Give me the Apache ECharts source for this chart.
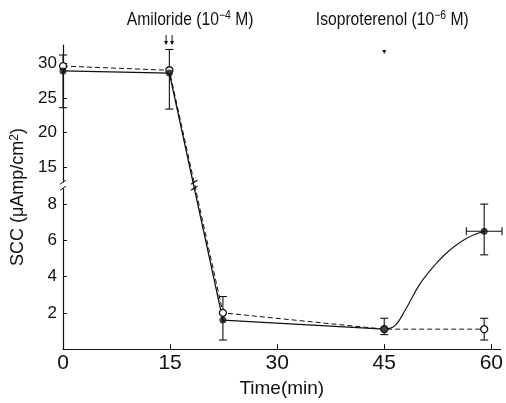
<!DOCTYPE html>
<html>
<head>
<meta charset="utf-8">
<script src="https://cdn.jsdelivr.net/npm/echarts@6/dist/echarts.min.js"></script>
<style>html,body{margin:0;padding:0;background:#fff}#c{width:506px;height:403px}</style>
</head>
<body>
<div id="c"></div>
<script>
// ---- data ----
const timeMin = [0, 14.9, 22.4, 45, 59];
const solidSCC = [28.9, 28.6, 1.6, 1.1, 6.5];      // filled circles
const openSCC = [29.6, 29.0, 2.0, 1.1, 1.1];       // open circles (dashed)
const curveTime = [45, 46.5, 48, 50, 52, 54, 56.5, 59]; // hand-drawn recovery curve (solid)
const curveSCC = [1.1, 1.3, 2.2, 3.6, 4.6, 5.4, 6.1, 6.5];
// vertical error bars
const errTime = [0, 14.9, 22.4, 45, 59, 59];
const errLow = [23.6, 23.4, 0.5, 0.8, 5.2, 0.5];
const errHigh = [31.2, 32.0, 2.9, 1.7, 8.0, 1.7];
// horizontal error bar
const hErrValue = [6.5];
const hErrLow = [56.5];
const hErrHigh = [61.5];
const xTicks = [0, 15, 30, 45, 60];
const yTicksLower = [2, 4, 6, 8];
const yTicksUpper = [15, 20, 25, 30];
const eventTimes = [15, 45];

// ---- broken y scale ----
const LOWER_MAX = 9.0;
const UPPER_ANCHOR = 30, UPPER_ANCHOR_U = 15.765, UPPER_RATIO = 7 / 18.3;
function yMap(v) { return v <= LOWER_MAX ? v : UPPER_ANCHOR_U + (v - UPPER_ANCHOR) * UPPER_RATIO; }
function yInv(u) { return u <= LOWER_MAX + 0.05 ? u : UPPER_ANCHOR + (u - UPPER_ANCHOR_U) / UPPER_RATIO; }
const BREAK_U = 9.04;

const FONT = "'Liberation Sans Narrow','Liberation Sans',sans-serif";
const INK = '#111';

const chart = echarts.init(document.getElementById('c'), null, {renderer: 'canvas'});

const solidMain = timeMin.slice(0, 4).map((t, i) => [t, yMap(solidSCC[i])]);
const openMain = timeMin.map((t, i) => [t, yMap(openSCC[i])]);
const curve = curveTime.map((t, i) => [t, yMap(curveSCC[i])]);
const solidPts = timeMin.map((t, i) => [t, yMap(solidSCC[i])]);
const vErr = errTime.map((t, i) => [t, yMap(errLow[i]), yMap(errHigh[i])]);
const hErr = hErrValue.map((v, i) => [hErrLow[i], hErrHigh[i], yMap(v)]);

const allYTicks = yTicksLower.concat(yTicksUpper).map(yMap);

chart.setOption({
  animation: false,
  backgroundColor: '#fff',
  grid: {left: 63, right: 3.5, top: 45, bottom: 51},
  xAxis: {
    type: 'value', min: 0, max: 61.3,
    name: 'Time(min)', nameLocation: 'middle', nameGap: 21,
    nameTextStyle: {fontFamily: FONT, fontSize: 19, color: INK},
    axisLine: {lineStyle: {color: INK, width: 1.2}},
    axisTick: {inside: true, length: 5, customValues: xTicks, lineStyle: {color: INK}},
    axisLabel: {customValues: xTicks, fontFamily: FONT, fontSize: 21, color: INK, margin: 4},
    splitLine: {show: false}
  },
  yAxis: {
    type: 'value', min: 0, max: 16.776,
    name: 'SCC (μAmp/cm{sup|2})', nameLocation: 'middle', nameRotate: 90, nameGap: 24,
    nameTextStyle: {fontFamily: FONT, fontSize: 18, color: INK,
      rich: {sup: {fontFamily: FONT, fontSize: 12, verticalAlign: 'top', padding: [0, 0, 8, 0], color: INK}}},
    axisLine: {lineStyle: {color: INK, width: 1.2}},
    axisTick: {inside: true, length: 4, customValues: allYTicks, lineStyle: {color: INK}},
    axisLabel: {customValues: allYTicks, fontFamily: FONT, fontSize: 17, color: INK, margin: 6,
      formatter: v => String(Math.round(yInv(v)))},
    splitLine: {show: false}
  },
  series: [
    {type: 'line', name: 'open', data: openMain, symbol: 'circle', symbolSize: 7,
      lineStyle: {color: INK, width: 1, type: [5, 3]},
      itemStyle: {color: '#fff', borderColor: INK, borderWidth: 1.3}, z: 3},
    {type: 'line', name: 'solid', data: solidMain, symbol: 'none',
      lineStyle: {color: INK, width: 1.3}, z: 2},
    {type: 'line', name: 'curve', data: curve, symbol: 'none', smooth: 0.4,
      lineStyle: {color: INK, width: 1.1}, z: 2},
    {type: 'scatter', name: 'solidPts', data: solidPts, symbol: 'circle', symbolSize: 7,
      itemStyle: {color: INK}, z: 4},
    {type: 'custom', name: 'vErr', data: vErr, z: 1,
      renderItem: function (params, api) {
        const x = api.value(0);
        const lo = api.coord([x, api.value(1)]);
        const hi = api.coord([x, api.value(2)]);
        const w = 4;
        const st = {stroke: INK, lineWidth: 1.1};
        return {type: 'group', children: [
          {type: 'line', shape: {x1: lo[0], y1: lo[1], x2: hi[0], y2: hi[1]}, style: st},
          {type: 'line', shape: {x1: lo[0] - w, y1: lo[1], x2: lo[0] + w, y2: lo[1]}, style: st},
          {type: 'line', shape: {x1: hi[0] - w, y1: hi[1], x2: hi[0] + w, y2: hi[1]}, style: st}
        ]};
      }},
    {type: 'custom', name: 'hErr', data: hErr, z: 1,
      renderItem: function (params, api) {
        const y = api.value(2);
        const a = api.coord([api.value(0), y]);
        const b = api.coord([api.value(1), y]);
        const h = 4;
        const st = {stroke: INK, lineWidth: 1.1};
        return {type: 'group', children: [
          {type: 'line', shape: {x1: a[0], y1: a[1], x2: b[0], y2: b[1]}, style: st},
          {type: 'line', shape: {x1: a[0], y1: a[1] - h, x2: a[0], y2: a[1] + h}, style: st},
          {type: 'line', shape: {x1: b[0], y1: b[1] - h, x2: b[0], y2: b[1] + h}, style: st}
        ]};
      }}
  ]
});

// ---- annotations placed through the chart's scales ----
const g = [];
const brkY = chart.convertToPixel({gridIndex: 0}, [0, BREAK_U]);
g.push({type: 'rect', shape: {x: brkY[0] - 2, y: brkY[1] - 3, width: 4, height: 6}, style: {fill: '#fff'}, z: 50});
[-3, 3].forEach(d => g.push({type: 'line', shape: {x1: brkY[0] - 3, y1: brkY[1] + d + 2, x2: brkY[0] + 3, y2: brkY[1] + d - 2}, style: {stroke: INK, lineWidth: 1}, z: 51}));
[solidSCC, openSCC].forEach(arr => {
  const p1 = chart.convertToPixel({gridIndex: 0}, [timeMin[1], yMap(arr[1])]);
  const p2 = chart.convertToPixel({gridIndex: 0}, [timeMin[2], yMap(arr[2])]);
  const f = (brkY[1] - p1[1]) / (p2[1] - p1[1]);
  const x = p1[0] + f * (p2[0] - p1[0]);
  [-3, 3].forEach(d => g.push({type: 'line', shape: {x1: x - 3, y1: brkY[1] + d + 2, x2: x + 3, y2: brkY[1] + d - 2}, style: {stroke: INK, lineWidth: 1}, z: 51}));
});
const a1 = chart.convertToPixel({gridIndex: 0}, [eventTimes[0], 0]);
const a2 = chart.convertToPixel({gridIndex: 0}, [eventTimes[1], 0]);
function arrow(x, yTop, len) {
  g.push({type: 'line', shape: {x1: x, y1: yTop, x2: x, y2: yTop + len}, style: {stroke: INK, lineWidth: 1}, z: 52});
  g.push({type: 'polygon', shape: {points: [[x - 2, yTop + len - 3], [x + 2, yTop + len - 3], [x, yTop + len + 1]]}, style: {fill: INK}, z: 52});
}
arrow(a1[0] - 4, 35, 9);
arrow(a1[0] + 2, 35, 9);
g.push({type: 'polygon', shape: {points: [[a2[0] - 2, 50], [a2[0] + 2, 50], [a2[0], 54]]}, style: {fill: INK}, z: 52});
const rich = {sup: {fontFamily: FONT, fontSize: 12, verticalAlign: 'top', padding: [0, 0, 9, 0], fill: INK}};
g.push({type: 'text', x: a1[0] + 20, y: 20, scaleX: 0.87, style: {text: 'Amiloride (10{sup|−4} M)', fontFamily: FONT, fontSize: 18, fill: INK, align: 'center', verticalAlign: 'middle', rich: rich}, z: 60});
g.push({type: 'text', x: a2[0] + 8, y: 20, scaleX: 0.87, style: {text: 'Isoproterenol (10{sup|−6} M)', fontFamily: FONT, fontSize: 18, fill: INK, align: 'center', verticalAlign: 'middle', rich: rich}, z: 60});
chart.setOption({graphic: g});
</script>
</body>
</html>
